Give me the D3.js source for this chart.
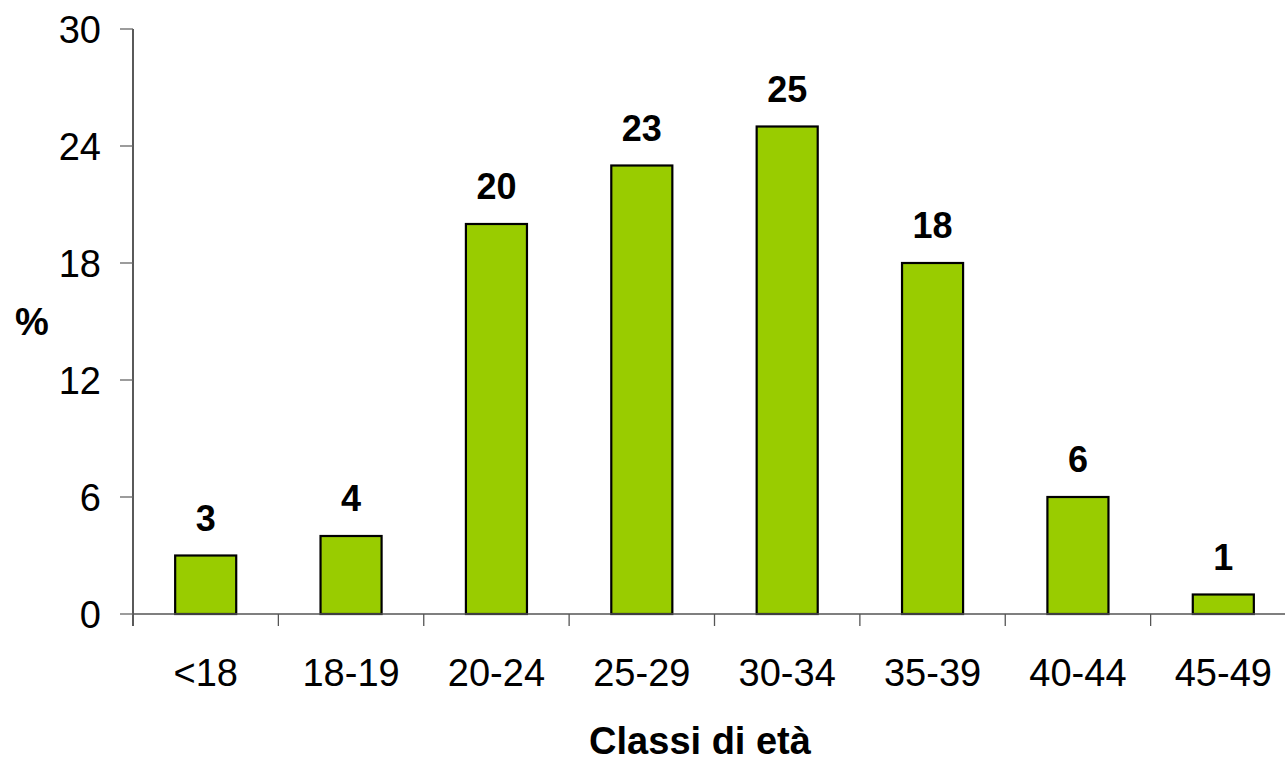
<!DOCTYPE html>
<html>
<head>
<meta charset="utf-8">
<script src="https://cdn.jsdelivr.net/npm/d3@7"></script>
<style>
  html, body { margin: 0; padding: 0; background: #fff; }
  svg { display: block; font-family: Arial, "Liberation Sans", sans-serif; }
</style>
</head>
<body>
<svg id="chart" width="1285" height="762"></svg>
<script>
const categories = ["<18", "18-19", "20-24", "25-29", "30-34", "35-39", "40-44", "45-49"];
const values = [3, 4, 20, 23, 25, 18, 6, 1];
const yTicks = [0, 6, 12, 18, 24, 30];
const yLabel = "%";
const xTitle = "Classi di età";

(function () {
const svg = d3.select("#chart");
const plotLeft = 133, plotRight = 1296, plotTop = 29, plotBottom = 614;

const x = d3.scaleBand().domain(categories).range([plotLeft, plotRight]).paddingInner(0.58).paddingOuter(0.29);
const y = d3.scaleLinear().domain([0, 30]).range([plotBottom, plotTop]);
const step = x.step();

// bars
svg.append("g").selectAll("rect").data(values).join("rect")
  .attr("x", (d, i) => x(categories[i]))
  .attr("y", d => y(d))
  .attr("width", x.bandwidth())
  .attr("height", d => y(0) - y(d))
  .attr("fill", "#99CC00")
  .attr("stroke", "#000")
  .attr("stroke-width", 2.2);

// value labels
svg.append("g").selectAll("text").data(values).join("text")
  .attr("x", (d, i) => x(categories[i]) + x.bandwidth() / 2)
  .attr("y", d => y(d) - 25)
  .attr("text-anchor", "middle")
  .attr("font-size", 36)
  .attr("font-weight", "bold")
  .text(d => d);

// y axis
const yAxis = svg.append("g");
yAxis.append("line").attr("x1", plotLeft).attr("x2", plotLeft).attr("y1", y(30)).attr("y2", plotBottom + 12)
  .attr("stroke", "#000").attr("stroke-width", 1.3);
yAxis.selectAll("line.tick").data(yTicks).join("line").attr("class", "tick")
  .attr("x1", plotLeft - 13).attr("x2", plotLeft).attr("y1", d => y(d)).attr("y2", d => y(d))
  .attr("stroke", "#666").attr("stroke-width", 1.3);
yAxis.selectAll("text").data(yTicks).join("text")
  .attr("x", plotLeft - 32).attr("y", d => y(d)).attr("dy", "0.36em")
  .attr("text-anchor", "end").attr("font-size", 38).text(d => d);

// x axis
const xAxis = svg.append("g");
xAxis.append("line").attr("x1", plotLeft).attr("x2", 1285).attr("y1", plotBottom).attr("y2", plotBottom)
  .attr("stroke", "#555").attr("stroke-width", 1.3);
const boundaries = d3.range(categories.length + 1).map(i => x.range()[0] + i * step);
xAxis.selectAll("line.tick").data(boundaries.slice(1)).join("line").attr("class", "tick")
  .attr("x1", d => d).attr("x2", d => d).attr("y1", plotBottom).attr("y2", plotBottom + 12)
  .attr("stroke", "#555").attr("stroke-width", 1.3);
xAxis.selectAll("text").data(categories).join("text")
  .attr("x", d => x(d) + x.bandwidth() / 2).attr("y", 686)
  .attr("text-anchor", "middle").attr("font-size", 38).text(d => d);

// axis titles
svg.append("text").attr("x", 32).attr("y", 335).attr("text-anchor", "middle")
  .attr("font-size", 38).attr("font-weight", "bold").text(yLabel);
svg.append("text").attr("x", 700).attr("y", 754).attr("text-anchor", "middle")
  .attr("font-size", 38).attr("font-weight", "bold").text(xTitle);
})();
</script>
</body>
</html>
